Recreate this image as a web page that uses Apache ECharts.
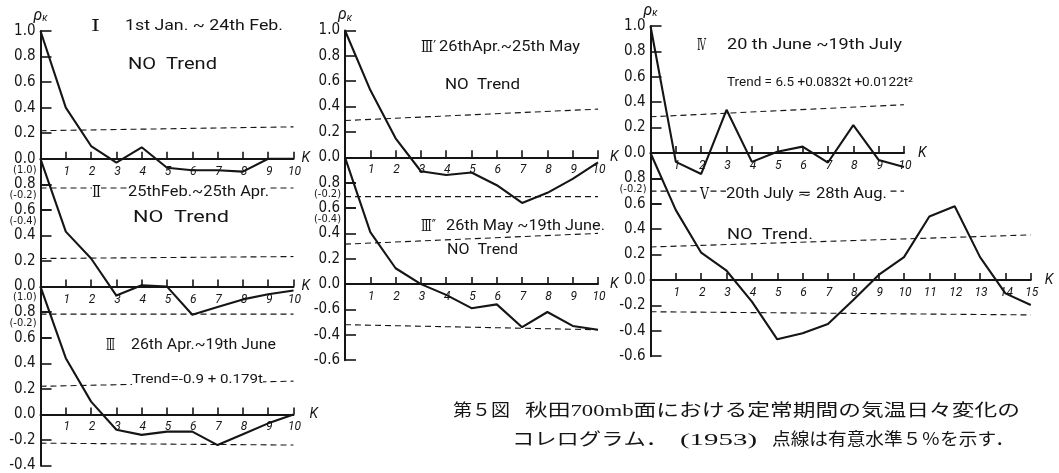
<!DOCTYPE html>
<html>
<head>
<meta charset="utf-8">
<script src="https://cdn.jsdelivr.net/npm/echarts@6/dist/echarts.min.js"></script>
<style>
  html, body { margin: 0; padding: 0; background: #fff; }
  #c { width: 1059px; height: 473px; }
</style>
</head>
<body>
<div id="c"></div>
<script>
// Lags k
const lagsTen = [0, 1, 2, 3, 4, 5, 6, 7, 8, 9, 10];
const lagsFifteen = [0, 1, 2, 3, 4, 5, 6, 7, 8, 9, 10, 11, 12, 13, 14, 15];

// Autocorrelation ρκ of the day-to-day temperature change, one array per stationary period
const rhoI    = [1.0, 0.40, 0.10, -0.03, 0.09, -0.07, -0.09, -0.09, -0.10, 0.0, 0.0];
const rhoII   = [1.0, 0.43, 0.22, -0.07, 0.01, 0.0, -0.22, -0.16, -0.10, -0.06, -0.03];
const rhoIII  = [1.0, 0.44, 0.10, -0.12, -0.16, -0.135, -0.135, -0.24, -0.155, -0.07, 0.0];
const rhoIIIa = [1.0, 0.53, 0.15, -0.11, -0.14, -0.12, -0.22, -0.36, -0.28, -0.17, -0.04];
const rhoIIIb = [1.0, 0.41, 0.125, 0.0, -0.085, -0.19, -0.16, -0.34, -0.22, -0.33, -0.36];
const rhoIV   = [1.0, -0.07, -0.165, 0.34, -0.07, 0.01, 0.05, -0.075, 0.22, -0.055, -0.11];
const rhoV    = [1.0, 0.55, 0.215, 0.073, -0.17, -0.467, -0.42, -0.346, -0.157, 0.04, 0.18, 0.50, 0.58, 0.18, -0.105, -0.197];

// 5 % significance limits: value at k = 0 and at the last lag
const sigUpI    = [0.22, 0.25],   sigLoI    = [-0.228, -0.228];
const sigUpII   = [0.22, 0.235],  sigLoII   = [-0.215, -0.215];
const sigUpIII  = [0.22, 0.26],   sigLoIII  = [-0.225, -0.24];
const sigUpIIIa = [0.29, 0.38],   sigLoIIIa = [-0.31, -0.31];
const sigUpIIIb = [0.315, 0.40],  sigLoIIIb = [-0.32, -0.36];
const sigUpIV   = [0.285, 0.38],  sigLoIV   = [-0.30, -0.30];
const sigUpV    = [0.26, 0.355],  sigLoV    = [-0.25, -0.275];

// Vertical tick labels shown on each panel
const yValsTop    = [0, 0.2, 0.4, 0.6, 0.8, 1.0];
const yTextTop    = ['0.0', '0.2', '0.4', '0.6', '0.8', '1.0'];
const yValsMid    = [0, 0.2, 0.4, 0.6, 0.8];
const yTextMid    = ['0.0', '0.2', '0.4', '0.6', '0.8'];
const yValsIII    = [-0.4, -0.2, 0, 0.2, 0.4, 0.6, 0.8];
const yTextIII    = ['-0.4', '-0.2', '0.0', '0.2', '0.4', '0.6', '0.8'];
const yValsIIIb   = [-0.6, -0.4, -0.2, 0, 0.2, 0.4, 0.6, 0.8];
const yTextIIIb   = ['-0.6', '-0.4', '-0.6', '0.0', '0.2', '0.4', '0.6', '0.8'];
const yValsV      = [-0.6, -0.4, -0.2, 0, 0.2, 0.4, 0.6, 0.8];
const yTextV      = ['-0.6', '-0.4', '-0.2', '0.0', '0.2', '0.4', '0.6', '0.8'];

// Bracketed labels of the neighbouring panel's scale: [panel, value, text]
const bracketLabels = [
  ['II', 1.0, '(1.0)'], ['I', -0.2, '(-0.2)'], ['I', -0.4, '(-0.4)'],
  ['III', 1.0, '(1.0)'], ['II', -0.2, '(-0.2)'],
  ['IIIa', -0.2, '(-0.2)'], ['IIIa', -0.4, '(-0.4)'],
  ['IV', -0.2, '(-0.2)']
];

// Panel headings and notes
const headI    = ['Ⅰ', '1st Jan. ~ 24th Feb.', 'NO  Trend'];
const headII   = ['Ⅱ', '25thFeb.~25th Apr.', 'NO  Trend'];
const headIII  = ['Ⅲ', '26th Apr.~19th June', 'Trend=-0.9 + 0.179t'];
const headIIIa = ['Ⅲ′', '26thApr.~25th May', 'NO  Trend'];
const headIIIb = ['Ⅲ″', '26th May ~19th June.', 'NO  Trend'];
const headIV   = ['Ⅳ', '20 th June ~19th July', 'Trend = 6.5 +0.0832t +0.0122t²'];
const headV    = ['Ⅴ', '20th July ≂ 28th Aug.', 'NO  Trend.'];
const caption1 = ['第５図', '秋田700mb面における定常期間の気温日々変化の'];
const caption2 = ['コレログラム．', '(1953)', '点線は有意水準５％を示す．'];

// ---------------------------------------------------------------------------
const ink = '#151515';
const hand = 'Roboto, "DejaVu Sans", sans-serif';
const narrow = '"Liberation Sans Narrow", "DejaVu Sans Condensed", Roboto, sans-serif';
const capFont = '"Liberation Serif", "Noto Sans CJK JP", serif';

// Column geometry: x of k = 0, pixels per lag, y of ρ = 1.0 in the top panel, pixels per unit ρ
const cols = {
  L: { x0: 40.5, step: 25.3, top: 31, unit: 127.8 },
  M: { x0: 345, step: 25.3, top: 30.5, unit: 126.8 },
  R: { x0: 650.5, step: 25.35, top: 26, unit: 127 }
};

const panels = [
  { id: 'I',    col: 'L', row: 0, min: -0.4, lags: lagsTen, rho: rhoI,    up: sigUpI,    lo: sigLoI,    yv: yValsTop,  yt: yTextTop,  head: true, kGap: 8 },
  { id: 'II',   col: 'L', row: 1, min: -0.4, lags: lagsTen, rho: rhoII,   up: sigUpII,   lo: sigLoII,   yv: yValsMid,  yt: yTextMid,  kGap: 8 },
  { id: 'III',  col: 'L', row: 2, min: -0.4, lags: lagsTen, rho: rhoIII,  up: sigUpIII,  lo: sigLoIII,  yv: yValsIII,  yt: yTextIII,  kGap: 16 },
  { id: 'IIIa', col: 'M', row: 0, min: -0.4, lags: lagsTen, rho: rhoIIIa, up: sigUpIIIa, lo: sigLoIIIa, yv: yValsTop,  yt: yTextTop,  head: true, kGap: 12 },
  { id: 'IIIb', col: 'M', row: 1, min: -0.6, lags: lagsTen, rho: rhoIIIb, up: sigUpIIIb, lo: sigLoIIIb, yv: yValsIIIb, yt: yTextIIIb, kGap: 12 },
  { id: 'IV',   col: 'R', row: 0, min: -0.4, lags: lagsTen, rho: rhoIV,   up: sigUpIV,   lo: sigLoIV,   yv: yValsTop,  yt: yTextTop,  head: true, kGap: 14 },
  { id: 'V',    col: 'R', row: 1, min: -0.6, lags: lagsFifteen, rho: rhoV, up: sigUpV,   lo: sigLoV,    yv: yValsV,    yt: yTextV,    kGap: 14 }
];

const grids = [], xAxes = [], yAxes = [], series = [];
panels.forEach((p, i) => {
  const c = cols[p.col];
  const kMax = p.lags[p.lags.length - 1];
  grids.push({
    left: c.x0, top: c.top + p.row * c.unit,
    width: kMax * c.step, height: (1 - p.min) * c.unit,
    containLabel: false, outerBoundsMode: 'none'
  });
  xAxes.push({
    gridIndex: i, type: 'value', min: 0, max: kMax, interval: 1,
    name: 'K', nameLocation: 'end', nameGap: p.kGap,
    nameTextStyle: { color: ink, fontSize: 14, fontStyle: 'italic', fontFamily: hand, padding: [0, 0, 14, 0] },
    axisLine: { onZero: true, lineStyle: { color: ink, width: 2 } },
    axisTick: { inside: true, length: 7, lineStyle: { color: ink, width: 1.6 } },
    axisLabel: { show: false },
    splitLine: { show: false }
  });
  yAxes.push({
    gridIndex: i, type: 'value', min: p.min, max: 1.0, interval: 0.2,
    axisLine: { show: true, onZero: false, lineStyle: { color: ink, width: 2 } },
    axisTick: { show: true, inside: true, length: 11, lineStyle: { color: ink, width: 1.6 } },
    axisLabel: {
      margin: 5, color: ink, fontSize: 15, fontFamily: narrow,
      formatter: v => {
        const j = p.yv.findIndex(t => Math.abs(t - v) < 1e-6);
        return j < 0 ? '' : p.yt[j];
      }
    },
    splitLine: { show: false },
    name: p.head ? '{r|ρ}{s|κ}' : '',
    nameLocation: 'end', nameGap: 5,
    nameTextStyle: {
      rich: {
        r: { fontSize: 16, fontStyle: 'italic', color: ink, fontFamily: hand },
        s: { fontSize: 10, fontStyle: 'italic', color: ink, fontFamily: hand, padding: [6, 0, 0, 0] }
      }
    }
  });
  series.push({
    type: 'line', xAxisIndex: i, yAxisIndex: i, symbol: 'none', silent: true,
    data: p.lags.map((k, j) => [k, p.rho[j]]),
    lineStyle: { color: ink, width: 2.1 }, z: 3
  });
  [p.up, p.lo].forEach(lim => {
    series.push({
      type: 'line', xAxisIndex: i, yAxisIndex: i, symbol: 'none', silent: true,
      data: [[0, lim[0]], [kMax, lim[1]]],
      lineStyle: { color: ink, width: 1.1, type: [6, 4] }, z: 2
    });
  });
});

const chart = echarts.init(document.getElementById('c'));
chart.setOption({
  backgroundColor: '#fff',
  animation: false,
  grid: grids, xAxis: xAxes, yAxis: yAxes, series: series
});

// Text helpers: stretch each text horizontally to its slot width
const mctx = document.createElement('canvas').getContext('2d');
function fitText(text, x, y, w, size, family, opts) {
  opts = opts || {};
  const style = opts.italic ? 'italic' : 'normal';
  mctx.font = style + ' ' + size + 'px ' + family;
  const mw = mctx.measureText(text).width || 1;
  return {
    type: 'text', x: x, y: y, scaleX: w / mw, z: 50,
    style: {
      text: text, fontSize: size, fontFamily: family, fontStyle: style, fill: ink,
      align: 'left', verticalAlign: 'middle', textAlign: 'left', textVerticalAlign: 'middle',
      backgroundColor: opts.bg ? '#fff' : null
    }
  };
}
function plainText(text, x, y, size, family, align, italic) {
  return {
    type: 'text', x: x, y: y, z: 50,
    style: {
      text: text, fontSize: size, fontFamily: family, fontStyle: italic ? 'italic' : 'normal', fill: ink,
      align: align, verticalAlign: 'middle', textAlign: align, textVerticalAlign: 'middle'
    }
  };
}

const g = [];

// lag numbers under each zero line, placed through each panel's own scale
panels.forEach((p, i) => {
  p.lags.forEach(k => {
    if (k === 0) return;
    const pt = chart.convertToPixel({ gridIndex: i }, [k, 0]);
    g.push(plainText(String(k), pt[0] + 1, pt[1] + 13, 12, hand, 'center', true));
  });
});

// headings: [texts, numeral x, text x, title y, title width, note x, note y, note width, note size, bg title, bg note]
const headLayout = [
  [headI,    91,  125, 26,  158, 128, 65,  89,  16, false, false],
  [headII,   92,  128, 192, 141, 133, 218, 96,  16, true,  false],
  [headIII,  106, 131, 345, 145, 132, 380, 131, 13, false, true],
  [headIIIa, 421, 439, 47,  141, 445, 85,  75,  15, false, false],
  [headIIIb, 421, 446, 226, 159, 447, 250, 71,  15, false, false],
  [headIV,   697, 727, 45,  175, 727, 83,  186, 12, false, false],
  [headV,    700, 726, 194, 161, 727, 235, 86,  15, true,  false]
];
headLayout.forEach(h => {
  const t = h[0];
  g.push(fitText(t[0], h[1], h[3] + 1, (t[0].length > 1 ? 15 : 9), 16, '"DejaVu Serif", serif', { bg: h[9] }));
  g.push(fitText(t[1], h[2], h[3], h[4], 14, hand, { bg: h[9] }));
  g.push(fitText(t[2], h[5], h[6], h[7], h[8], hand, { bg: h[10] }));
});

// bracketed labels follow the neighbouring panel's own scale
bracketLabels.forEach(b => {
  const idx = panels.findIndex(p => p.id === b[0]);
  const pt = chart.convertToPixel({ gridIndex: idx }, [0, b[1]]);
  g.push(plainText(b[2], pt[0] - 4, pt[1] + 11, 11, narrow, 'right', false));
});

// caption
g.push(fitText(caption1[0], 453, 412, 57, 17, capFont));
g.push(fitText(caption1[1], 525, 412, 495, 17, capFont));
g.push(fitText(caption2[0], 512, 441, 156, 17, capFont));
g.push(fitText(caption2[1], 680, 441, 77, 17, capFont));
g.push(fitText(caption2[2], 772, 441, 242, 17, capFont));

chart.setOption({ graphic: { elements: g } });
</script>
</body>
</html>
